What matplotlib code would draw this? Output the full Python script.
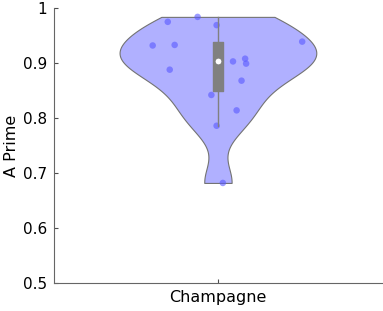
import numpy as np
import matplotlib.pyplot as plt

# A Prime scores for the single category
category = ["Champagne"]
values = [0.975, 0.984, 0.969, 0.932, 0.933, 0.939, 0.903, 0.908, 0.899,
          0.888, 0.868, 0.842, 0.814, 0.786, 0.682]
# horizontal jitter of the scatter points (data units from the centre)
jitter = [-0.153, -0.062, -0.004, -0.199, -0.132, 0.257, 0.046, 0.083, 0.086,
          -0.147, 0.072, -0.020, 0.057, -0.004, 0.015]
yticks = [0.5, 0.6, 0.7, 0.8, 0.9, 1.0]
ytick_labels = ["0.5", "0.6", "0.7", "0.8", "0.9", "1"]

data = np.array(values)
pos = 1.0
width = 0.3

# kernel density like MATLAB ksdensity (normal kernel, default bandwidth)
sig = np.median(np.abs(data - np.median(data))) / 0.6745
bw = 1.05 * sig * (4 / (3 * len(data))) ** 0.2
grid = np.linspace(data.min(), data.max(), 200)
dens = np.exp(-0.5 * ((grid[:, None] - data[None, :]) / bw) ** 2).sum(axis=1)
dens = dens / dens.max() * width

q1, med, q3 = np.percentile(data, [25, 50, 75], method="hazen")
iqr = q3 - q1
wlo = data[data >= q1 - 1.5 * iqr].min()
whi = data[data <= q3 + 1.5 * iqr].max()

fig = plt.figure(figsize=(3.83, 3.11), dpi=100)
ax = fig.add_axes([0.141, 0.09, 0.856, 0.884])

ax.fill_betweenx(grid, pos - dens, pos + dens, facecolor=(0.69, 0.69, 1.0),
                 edgecolor=(0.45, 0.45, 0.45), linewidth=0.8, zorder=1)
ax.scatter(pos + np.array(jitter), data, s=22, color=(0.35, 0.35, 1.0),
           alpha=0.6, edgecolors="none", zorder=2)
ax.plot([pos, pos], [wlo, whi], color=(0.5, 0.5, 0.5), linewidth=1, zorder=3)
ax.fill_between([pos - 0.015, pos + 0.015], q1, q3, color=(0.5, 0.5, 0.5), zorder=4)
ax.scatter([pos], [med], s=25, color="white", edgecolors=(0.5, 0.5, 0.5),
           linewidths=0.8, zorder=5)

ax.set_xlim(0.5, 1.5)
ax.set_ylim(0.5, 1.0)
ax.set_xticks([pos])
ax.set_xticklabels(category, fontsize=11.5)
ax.set_yticks(yticks)
ax.set_yticklabels(ytick_labels, fontsize=11)
ax.set_ylabel("A Prime", fontsize=11.5, labelpad=3)
ax.tick_params(direction="in", length=3, color=(0.3, 0.3, 0.3), pad=5)
for side in ["top", "right"]:
    ax.spines[side].set_visible(False)
for side in ["left", "bottom"]:
    ax.spines[side].set_color((0.4, 0.4, 0.4))

fig.savefig("out.png", dpi=100)
